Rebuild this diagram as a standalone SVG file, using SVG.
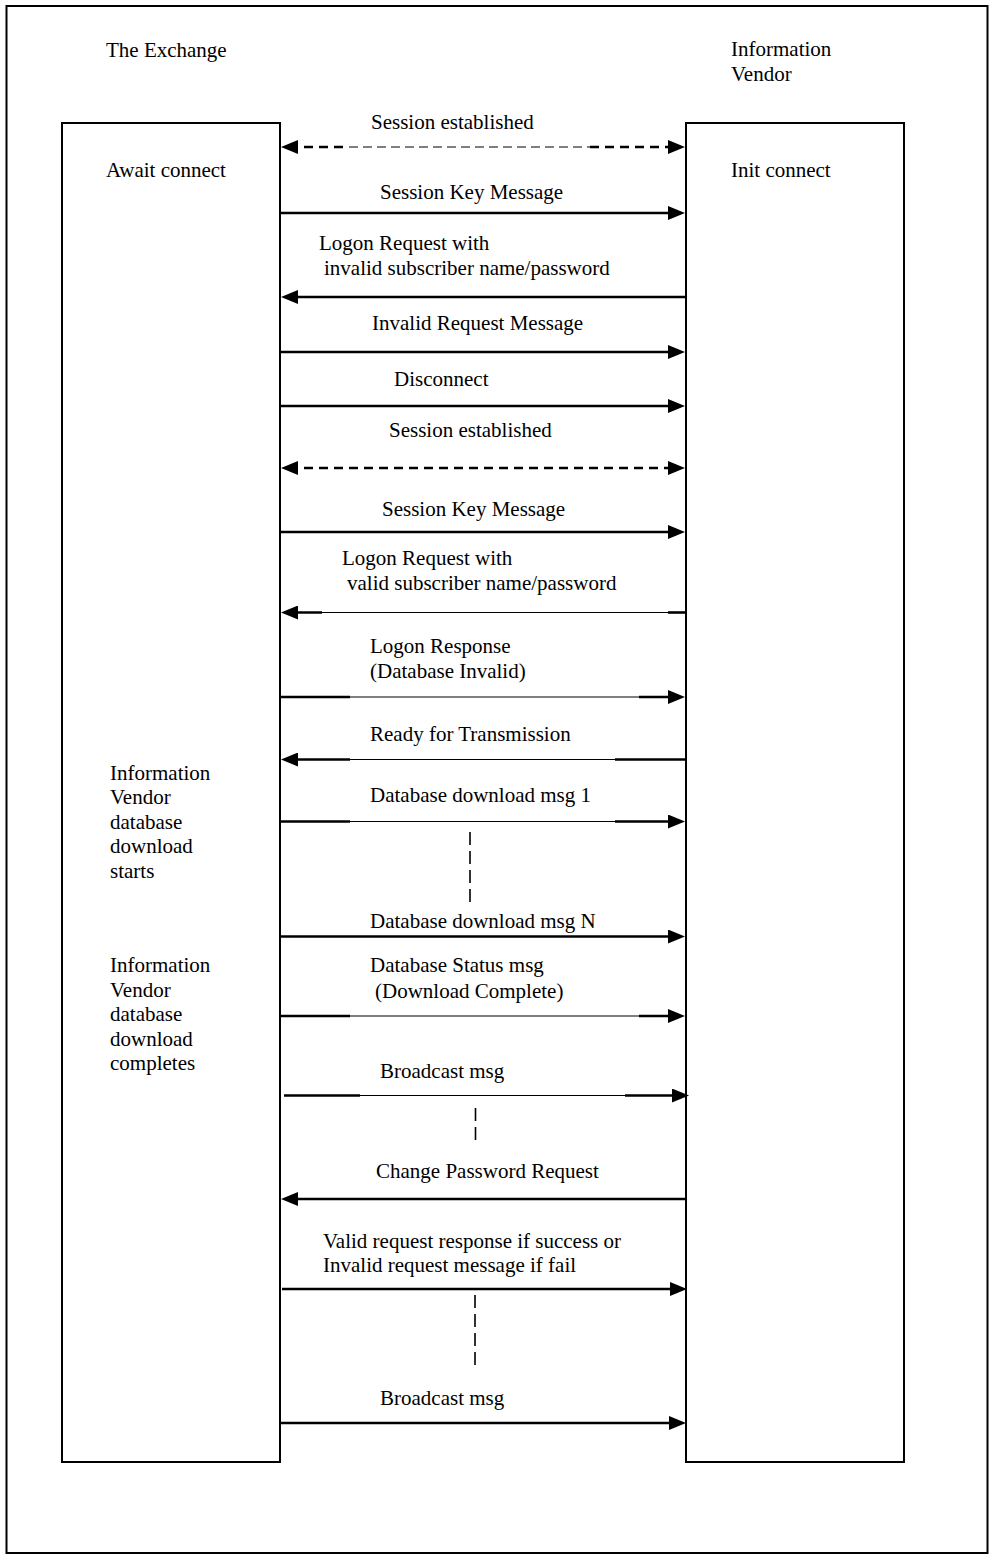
<svg xmlns="http://www.w3.org/2000/svg" width="994" height="1558" viewBox="0 0 994 1558">
<style>
text{font-family:"Liberation Serif","Times New Roman",serif;font-size:21px;fill:#000}
.box{fill:#fff;stroke:#000;stroke-width:2}
.thk{stroke:#000;stroke-width:2.6;fill:none}
.thn{stroke:#000;stroke-width:1.2;fill:none}
.dthk{stroke:#000;stroke-width:2.6;fill:none;stroke-dasharray:9 6}
.dthn{stroke:#000;stroke-width:1.2;fill:none;stroke-dasharray:9 5}
.vd{stroke:#000;stroke-width:1.6;fill:none;stroke-dasharray:13 6}
</style>
<defs>
<marker id="ah" viewBox="0 0 17 14" refX="9" refY="7" markerWidth="17" markerHeight="14" markerUnits="userSpaceOnUse" orient="auto-start-reverse">
<path d="M0,0 L17,7 L0,14 z" fill="#000"/>
</marker>
</defs>
<rect x="0" y="0" width="994" height="1558" fill="#fff"/>
<rect id="frame" x="6.5" y="6" width="981" height="1547" fill="none" stroke="#000" stroke-width="2"/>
<g id="exchange">
<rect class="box" x="62" y="123" width="218" height="1339"/>
<text x="106" y="57">The Exchange</text>
<text x="106" y="177">Await connect</text>
<text x="110" y="780">Information</text>
<text x="110" y="804">Vendor</text>
<text x="110" y="829">database</text>
<text x="110" y="853">download</text>
<text x="110" y="878">starts</text>
<text x="110" y="972">Information</text>
<text x="110" y="997">Vendor</text>
<text x="110" y="1021">database</text>
<text x="110" y="1046">download</text>
<text x="110" y="1070">completes</text>
</g>
<g id="vendor">
<rect class="box" x="686" y="123" width="218" height="1339"/>
<text x="731" y="56">Information</text>
<text x="731" y="81">Vendor</text>
<text x="731" y="177">Init connect</text>
</g>
<g id="connectors">
<line class="dthk" x1="289" y1="147" x2="349" y2="147" marker-start="url(#ah)"/>
<line class="dthn" x1="349" y1="147" x2="590" y2="147"/>
<line class="dthk" x1="590" y1="147" x2="677" y2="147" marker-end="url(#ah)"/>
<text x="371" y="129">Session established</text>
<line class="thk" x1="281" y1="213" x2="677" y2="213" marker-end="url(#ah)"/>
<text x="380" y="199">Session Key Message</text>
<line class="thk" x1="686" y1="297" x2="289" y2="297" marker-end="url(#ah)"/>
<text x="319" y="250">Logon Request with</text>
<text x="324" y="275">invalid subscriber name/password</text>
<line class="thk" x1="281" y1="352" x2="677" y2="352" marker-end="url(#ah)"/>
<text x="372" y="330">Invalid Request Message</text>
<line class="thk" x1="281" y1="406" x2="677" y2="406" marker-end="url(#ah)"/>
<text x="394" y="386">Disconnect</text>
<line class="dthk" x1="289" y1="468" x2="677" y2="468" marker-start="url(#ah)" marker-end="url(#ah)"/>
<text x="389" y="437">Session established</text>
<line class="thk" x1="281" y1="532" x2="677" y2="532" marker-end="url(#ah)"/>
<text x="382" y="516">Session Key Message</text>
<line class="thk" x1="686" y1="612.5" x2="668" y2="612.5"/>
<line class="thn" x1="668" y1="612.5" x2="322" y2="612.5"/>
<line class="thk" x1="322" y1="612.5" x2="289" y2="612.5" marker-end="url(#ah)"/>
<text x="342" y="565">Logon Request with</text>
<text x="347" y="590">valid subscriber name/password</text>
<line class="thk" x1="281" y1="697" x2="350" y2="697"/>
<line class="thn" x1="350" y1="697" x2="639" y2="697"/>
<line class="thk" x1="639" y1="697" x2="677" y2="697" marker-end="url(#ah)"/>
<text x="370" y="653">Logon Response</text>
<text x="370" y="678">(Database Invalid)</text>
<line class="thk" x1="686" y1="759.5" x2="615" y2="759.5"/>
<line class="thn" x1="615" y1="759.5" x2="350" y2="759.5"/>
<line class="thk" x1="350" y1="759.5" x2="289" y2="759.5" marker-end="url(#ah)"/>
<text x="370" y="741">Ready for Transmission</text>
<line class="thk" x1="281" y1="821.5" x2="350" y2="821.5"/>
<line class="thn" x1="350" y1="821.5" x2="615" y2="821.5"/>
<line class="thk" x1="615" y1="821.5" x2="677" y2="821.5" marker-end="url(#ah)"/>
<text x="370" y="802">Database download msg 1</text>
<line class="vd" x1="470" y1="832" x2="470" y2="905"/>
<line class="thk" x1="281" y1="936.5" x2="677" y2="936.5" marker-end="url(#ah)"/>
<text x="370" y="928">Database download msg N</text>
<line class="thk" x1="281" y1="1016" x2="350" y2="1016"/>
<line class="thn" x1="350" y1="1016" x2="639" y2="1016"/>
<line class="thk" x1="639" y1="1016" x2="677" y2="1016" marker-end="url(#ah)"/>
<text x="370" y="972">Database Status msg</text>
<text x="375" y="998">(Download Complete)</text>
<line class="thk" x1="284" y1="1095.5" x2="360" y2="1095.5"/>
<line class="thn" x1="360" y1="1095.5" x2="625" y2="1095.5"/>
<line class="thk" x1="625" y1="1095.5" x2="681" y2="1095.5" marker-end="url(#ah)"/>
<text x="380" y="1078">Broadcast msg</text>
<line class="vd" x1="475.5" y1="1108" x2="475.5" y2="1146"/>
<line class="thk" x1="686" y1="1199" x2="289" y2="1199" marker-end="url(#ah)"/>
<text x="376" y="1178">Change Password Request</text>
<line class="thk" x1="282" y1="1289" x2="679" y2="1289" marker-end="url(#ah)"/>
<text x="323" y="1248">Valid request response if success or</text>
<text x="323" y="1272">Invalid request message if fail</text>
<line class="vd" x1="475" y1="1295" x2="475" y2="1366"/>
<line class="thk" x1="281" y1="1423" x2="678" y2="1423" marker-end="url(#ah)"/>
<text x="380" y="1405">Broadcast msg</text>
</g>
</svg>
